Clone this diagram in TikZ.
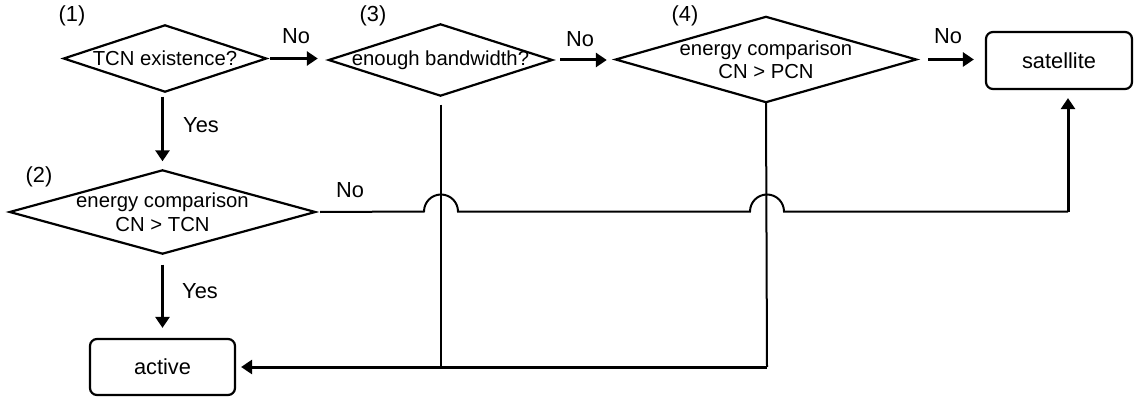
\documentclass[tikz,border=0pt]{standalone}
\usepackage{fontspec}
\setmainfont{Liberation Sans}
\usetikzlibrary{arrows.meta}
\tikzset{
  dtext/.style={inner sep=0pt, align=center, font=\fontsize{20.3}{23.5}\selectfont},
  lbl/.style={inner sep=0pt, font=\fontsize{21.8}{25}\selectfont},
  box/.style={draw, line width=2.2pt, rounded corners=7pt, inner sep=0pt, font=\fontsize{21.8}{25}\selectfont},
  dline/.style={line width=2.2pt, line join=miter},
  conn/.style={line width=2pt},
  arr/.style={line width=3pt, -{Triangle[length=11pt,width=14pt]}},
}
\begin{document}
\begin{tikzpicture}[x=1pt,y=-1pt]
\useasboundingbox (0,0) rectangle (1141,401);
% diamonds
\node[dtext, minimum width=202pt, minimum height=66pt] (d1) at (165,58.5) {TCN existence?};
\node[dtext, minimum width=223pt, minimum height=71pt] (d3) at (440.5,60) {enough bandwidth?};
\node[dtext, minimum width=300pt, minimum height=85pt] (d4) at (766,59.5) {energy comparison\\CN \textgreater{} PCN};
\node[dtext, minimum width=305pt, minimum height=83pt] (d2) at (162.5,212) {energy comparison\\CN \textgreater{} TCN};
\foreach \d in {d1,d2,d3,d4}{
  \draw[dline] (\d.west) -- (\d.north) -- (\d.east) -- (\d.south) -- cycle;
}
% boxes
\node[box, minimum width=146pt, minimum height=57pt] (sat) at (1059,60.5) {satellite};
\node[box, minimum width=145pt, minimum height=56pt] (act) at (162.5,367) {active};
% step labels
\node[lbl] (l1) at (72,16) {(1)};
\node[lbl] (l3) at (373,16) {(3)};
\node[lbl] (l4) at (685,16) {(4)};
\node[lbl] (l2) at (39,177) {(2)};
% edge labels
\node[lbl] (n13) at (296,36) {No};
\node[lbl] (n34) at (580,39) {No};
\node[lbl] (n4s) at (948,36) {No};
\node[lbl] (y12) at (201,125) {Yes};
\node[lbl] (n2) at (350,190) {No};
\node[lbl] (y2a) at (200,291) {Yes};
% junctions
\coordinate (jS) at (1068,211.5);
\coordinate (jA) at (767,367);
% arrows between diamonds
\draw[arr, shorten <=4pt, shorten >=11pt] (d1.east) -- (d1.east -| d3.west);
\draw[arr, shorten <=8pt, shorten >=9pt] (d3.east) -- (d3.east -| d4.west);
\draw[arr, shorten <=12pt, shorten >=11pt] (d4.east) -- (d4.east -| sat.west);
\draw[arr, shorten <=5pt, shorten >=9pt] (d2.north |- d1.south) -- (d2.north);
\draw[arr, shorten <=11pt, shorten >=10pt] (d2.south) -- (act.north);
% No from (2) to satellite with hops
\draw[conn] ([xshift=5pt]d2.east) -- (424,211.5)
  arc[start angle=180, end angle=0, radius=17pt] -- (750,211.5)
  arc[start angle=180, end angle=0, radius=17pt] -- (jS);
\draw[arr, shorten >=8pt] (jS) -- (jS |- sat.south);
% lines down to active
\draw[conn, shorten <=9pt] (d3.south) -- (d3.south |- act.east);
\draw[conn] (d4.south) -- (jA);
\draw[arr, shorten >=5pt] (jA) -- (act.east);
\end{tikzpicture}
\end{document}
